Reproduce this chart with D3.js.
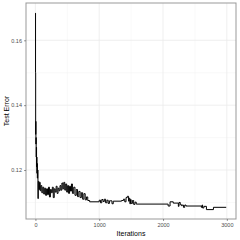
<!DOCTYPE html>
<html>
<head>
<meta charset="utf-8">
<script src="https://cdn.jsdelivr.net/npm/d3@7"></script>
<style>
  body { margin: 0; background: #fff; }
  text { font-family: "Liberation Sans", Arial, sans-serif; }
</style>
</head>
<body>
<svg width="240" height="240"></svg>
<script>
// iteration number and test error
var iterations = [0, 2, 4, 6, 8, 10, 12, 15, 18, 20, 24, 27, 30, 35, 40, 45, 55, 65, 75, 85,
  100, 115, 130, 145, 160, 175, 190, 205, 220, 235, 250, 265, 280, 295, 310, 325, 340, 355, 370, 385,
  400, 415, 430, 445, 460, 475, 490, 505, 520, 535, 550, 565, 580, 600, 620, 640, 660, 680, 700, 720,
  740, 760, 780, 800, 820, 850, 1000, 1020, 1040, 1060, 1080, 1100, 1120, 1140, 1160, 1200, 1220, 1350, 1380, 1400,
  1420, 1440, 1460, 1470, 1480, 1490, 1500, 1520, 1540, 1560, 1580, 2080, 2110, 2160, 2240, 2250, 2270, 2290, 2300, 2320,
  2340, 2360, 2600, 2610, 2620, 2640, 2680, 2790, 2990];
var testError = [0.1684, 0.150, 0.131, 0.135, 0.128, 0.130, 0.124, 0.127, 0.121, 0.124, 0.119, 0.122, 0.1175, 0.120, 0.1112, 0.1165, 0.1140, 0.1162, 0.1136, 0.1152,
  0.1130, 0.1147, 0.1126, 0.1144, 0.1122, 0.1142, 0.1124, 0.1147, 0.1117, 0.1140, 0.1130, 0.1147, 0.1115, 0.1142, 0.1132, 0.1150, 0.1128, 0.1144, 0.1136, 0.1152,
  0.1138, 0.1160, 0.1142, 0.1162, 0.1138, 0.1157, 0.1132, 0.1152, 0.1128, 0.1150, 0.1135, 0.1157, 0.1128, 0.1147, 0.1122, 0.1140, 0.1118, 0.1134, 0.1115, 0.1130,
  0.1110, 0.1127, 0.1108, 0.1117, 0.1106, 0.1102, 0.1107, 0.1099, 0.1109, 0.1103, 0.1110, 0.1099, 0.1107, 0.1097, 0.1105, 0.1096, 0.1104, 0.1106, 0.1110, 0.1102,
  0.1115, 0.1119, 0.1104, 0.1113, 0.1096, 0.1109, 0.1097, 0.1106, 0.1094, 0.1101, 0.1095, 0.1089, 0.1102, 0.1098, 0.1088, 0.1100, 0.1093, 0.1090, 0.1092, 0.1085,
  0.1092, 0.1089, 0.1085, 0.1092, 0.1083, 0.1088, 0.1078, 0.1085, 0.1085];

var xTicks = [0, 1000, 2000, 3000];
var xMinor = [500, 1500, 2500];
var yTicks = [0.12, 0.14, 0.16];
var yMinor = [0.11, 0.13, 0.15];

var data = iterations.map(function(d, i) { return { it: d, err: testError[i] }; });

var svg = d3.select("svg"),
    margin = { top: 3, right: 4, bottom: 21, left: 26 },
    width = 240 - margin.left - margin.right,
    height = 240 - margin.top - margin.bottom;

var x = d3.scaleLinear().domain([-147.5, 3143.5]).range([0, width]);
var y = d3.scaleLinear().domain([0.1049, 0.1715]).range([height, 0]);

var g = svg.append("g").attr("transform", "translate(" + margin.left + "," + margin.top + ")");

// grid
g.selectAll(".minor-x").data(xMinor).enter().append("line")
    .attr("x1", x).attr("x2", x).attr("y1", 0).attr("y2", height)
    .attr("stroke", "#f2f2f2").attr("stroke-width", 0.5);
g.selectAll(".minor-y").data(yMinor).enter().append("line")
    .attr("y1", y).attr("y2", y).attr("x1", 0).attr("x2", width)
    .attr("stroke", "#f2f2f2").attr("stroke-width", 0.5);
g.selectAll(".major-x").data(xTicks).enter().append("line")
    .attr("x1", x).attr("x2", x).attr("y1", 0).attr("y2", height)
    .attr("stroke", "#ebebeb").attr("stroke-width", 0.8);
g.selectAll(".major-y").data(yTicks).enter().append("line")
    .attr("y1", y).attr("y2", y).attr("x1", 0).attr("x2", width)
    .attr("stroke", "#ebebeb").attr("stroke-width", 0.8);

var line = d3.line()
    .curve(d3.curveStepAfter)
    .x(function(d) { return x(d.it); })
    .y(function(d) { return y(d.err); });

g.append("path")
    .datum(data)
    .attr("fill", "none")
    .attr("stroke", "#000")
    .attr("stroke-width", 1)
    .attr("d", line);

g.append("rect")
    .attr("width", width).attr("height", height)
    .attr("fill", "none").attr("stroke", "#999").attr("stroke-width", 1);

// axes
var xAxis = g.append("g")
    .attr("transform", "translate(0," + height + ")")
    .call(d3.axisBottom(x).tickValues(xTicks).tickSize(2).tickPadding(2).tickFormat(d3.format("d")));
var yAxis = g.append("g")
    .call(d3.axisLeft(y).tickValues(yTicks).tickSize(2).tickPadding(2).tickFormat(d3.format(".2f")));

[xAxis, yAxis].forEach(function(a) {
  a.select(".domain").remove();
  a.selectAll(".tick line").attr("stroke", "#333").attr("stroke-width", 0.5);
  a.selectAll(".tick text").attr("fill", "#4d4d4d").style("font-size", "5.5px")
    .style("font-family", "'Liberation Sans', Arial, sans-serif");
});

svg.append("text")
    .attr("x", margin.left + width / 2)
    .attr("y", 236)
    .attr("text-anchor", "middle")
    .style("font-size", "7px")
    .text("Iterations");

svg.append("text")
    .attr("transform", "translate(9," + (margin.top + height / 2) + ") rotate(-90)")
    .attr("text-anchor", "middle")
    .style("font-size", "7px")
    .text("Test Error");
</script>
</body>
</html>
